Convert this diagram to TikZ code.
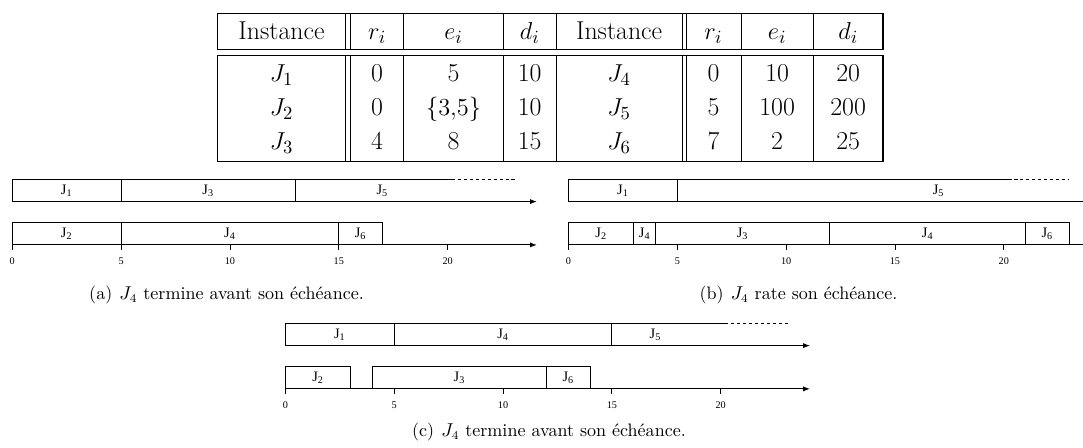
\documentclass[tikz,border=0pt]{standalone}
\usepackage{fontspec}
\usetikzlibrary{arrows.meta}
\newfontfamily\ganttfont{Liberation Serif}
\newcommand{\tablefont}{\fontsize{15.2}{18}\selectfont}
\newcommand{\jobfont}{\ganttfont\fontsize{8.5}{10}\selectfont}
\newcommand{\tickfont}{\ganttfont\fontsize{6}{7}\selectfont}
\newcommand{\capfont}{\fontsize{10.6}{12.5}\selectfont}
\tikzset{
	cell/.style={anchor=base, inner sep=0pt, font=\tablefont},
	rule/.style={line width=0.6pt},
	job/.style={draw, line width=0.5pt},
	joblabel/.style={inner sep=0pt, font=\jobfont},
	tail/.style={line width=0.5pt, dash pattern=on 2pt off 1.5pt},
	timeaxis/.style={line width=0.5pt, -{Latex[length=4pt,width=3pt]}},
	ticklabel/.style={inner sep=0pt, font=\tickfont},
	caption/.style={anchor=base, inner sep=0pt, font=\capfont}
}
\begin{document}
\begin{tikzpicture}
	\useasboundingbox (0,0) rectangle (22.39,9.26);
	% table of the instances
	\def\colx{{5.82,7.797,9.377,10.952,12.80,14.75,16.067,17.535}}
	\draw[rule] (4.492,8.973) rectangle (18.255,8.228);
	\draw[rule] (4.492,8.115) rectangle (18.255,5.919);
	\foreach \x in {7.147,7.25,8.344,10.409,11.495,14.1,14.183,15.32,16.814} {
		\draw[rule] (\x,8.973) -- (\x,8.228);
		\draw[rule] (\x,8.115) -- (\x,5.919);
	}
	\foreach \t [count=\i] in {Instance,$r_i$,$e_i$,$d_i$,Instance,$r_i$,$e_i$,$d_i$} {
		\pgfmathsetmacro\cx{\colx[\i-1]}
		\node[cell] (h-\i) at (\cx,8.445) {\t};
	}
	\foreach \t [count=\i] in {$J_1$,0,5,10,$J_4$,0,10,20} {
		\pgfmathsetmacro\cx{\colx[\i-1]}
		\node[cell] (r1-\i) at (\cx,7.57) {\t};
	}
	\foreach \t [count=\i] in {$J_2$,0,{$\{3{,}5\}$},10,$J_5$,5,100,200} {
		\pgfmathsetmacro\cx{\colx[\i-1]}
		\node[cell] (r2-\i) at (\cx,6.87) {\t};
	}
	\foreach \t [count=\i] in {$J_3$,4,8,15,$J_6$,7,2,25} {
		\pgfmathsetmacro\cx{\colx[\i-1]}
		\node[cell] (r3-\i) at (\cx,6.165) {\t};
	}
	% (a) J4 meets its deadline
	\begin{scope}[shift={(0.254,5.092)}, x=0.45cm]
		\foreach \s/\e/\j in {0/5/1,5/13/3} {
			\draw[job] (\s,0) rectangle (\e,0.463);
			\node[joblabel] (a-\j) at ({(\s+\e)/2},0.23) {J\textsubscript{\j}};
		}
		\draw[job] (13,0) -- (13,0.463) -- (20.2,0.463);
		\draw[tail] (20.2,0.463) -- (23.1,0.463);
		\node[joblabel] (a-5) at (17,0.23) {J\textsubscript{5}};
		\draw[timeaxis] (0,0) -- (24.1,0);
		\foreach \s/\e/\j in {0/5/2,5/15/4,15/17/6} {
			\draw[job] (\s,-0.895) rectangle (\e,-0.432);
			\node[joblabel] (a-\j) at ({(\s+\e)/2},-0.665) {J\textsubscript{\j}};
		}
		\draw[timeaxis] (0,-0.895) -- (24.1,-0.895);
		\foreach \t in {0,5,...,20} {
			\draw[line width=0.5pt] (\t,-0.895) -- (\t,-0.995);
			\node[ticklabel] (a-t\t) at (\t,-1.24) {\t};
		}
	\end{scope}
	\node[caption] (capa) at (4.683,3.06) {(a)\hspace{0.4em}$J_4$ termine avant son échéance.};
	% (b) J4 misses its deadline
	\begin{scope}[shift={(11.753,5.092)}, x=0.45cm]
		\draw[job] (0,0) rectangle (5,0.463);
		\node[joblabel] (b-1) at (2.5,0.23) {J\textsubscript{1}};
		\draw[job] (5,0) -- (5,0.463) -- (20.2,0.463);
		\draw[tail] (20.2,0.463) -- (23.0,0.463);
		\node[joblabel] (b-5) at (17,0.23) {J\textsubscript{5}};
		\draw[timeaxis] (0,0) -- (24.1,0);
		\foreach \s/\e/\j/\n in {0/3/2/2,3/4/4/4a,4/12/3/3,12/21/4/4b,21/23/6/6} {
			\draw[job] (\s,-0.895) rectangle (\e,-0.432);
			\node[joblabel] (b-\n) at ({(\s+\e)/2},-0.665) {J\textsubscript{\j}};
		}
		\draw[timeaxis] (0,-0.895) -- (24.1,-0.895);
		\foreach \t in {0,5,...,20} {
			\draw[line width=0.5pt] (\t,-0.895) -- (\t,-0.995);
			\node[ticklabel] (b-t\t) at (\t,-1.24) {\t};
		}
	\end{scope}
	\node[caption] (capb) at (16.508,3.06) {(b)\hspace{0.4em}$J_4$ rate son échéance.};
	% (c) J4 meets its deadline
	\begin{scope}[shift={(5.9,2.115)}, x=0.45cm]
		\foreach \s/\e/\j in {0/5/1,5/15/4} {
			\draw[job] (\s,0) rectangle (\e,0.463);
			\node[joblabel] (c-\j) at ({(\s+\e)/2},0.23) {J\textsubscript{\j}};
		}
		\draw[job] (15,0) -- (15,0.463) -- (20.2,0.463);
		\draw[tail] (20.2,0.463) -- (23.1,0.463);
		\node[joblabel] (c-5) at (17,0.23) {J\textsubscript{5}};
		\draw[timeaxis] (0,0) -- (24.1,0);
		\foreach \s/\e/\j in {0/3/2,4/12/3,12/14/6} {
			\draw[job] (\s,-0.895) rectangle (\e,-0.432);
			\node[joblabel] (c-\j) at ({(\s+\e)/2},-0.665) {J\textsubscript{\j}};
		}
		\draw[timeaxis] (0,-0.895) -- (24.1,-0.895);
		\foreach \t in {0,5,...,20} {
			\draw[line width=0.5pt] (\t,-0.895) -- (\t,-0.995);
			\node[ticklabel] (c-t\t) at (\t,-1.24) {\t};
		}
	\end{scope}
	\node[caption] (capc) at (11.35,0.227) {(c)\hspace{0.4em}$J_4$ termine avant son échéance.};
\end{tikzpicture}
\end{document}
